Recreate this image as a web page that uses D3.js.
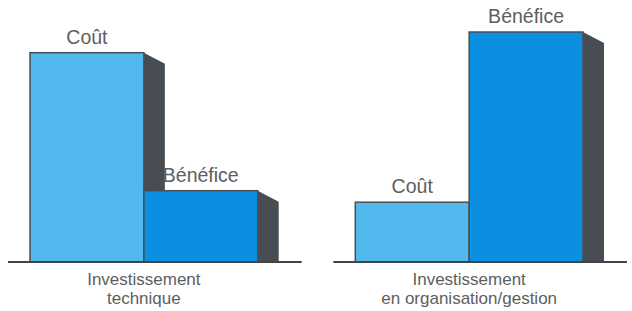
<!DOCTYPE html>
<html>
<head>
<meta charset="utf-8">
<script src="https://cdn.jsdelivr.net/npm/d3@7"></script>
<style>
  body { margin: 0; background: #fff; }
  text { font-family: "Liberation Sans", Arial, sans-serif; fill: #5e5e5e; }
</style>
</head>
<body>
<svg id="chart" width="632" height="311"></svg>
<script>
const groups = ['tech', 'orga'];
const groupLabels = [['Investissement', 'technique'], ['Investissement', 'en organisation/gestion']];
const series = ['Coût', 'Bénéfice'];
const values = [
  [91, 31],  // investissement technique
  [26, 100]  // investissement en organisation/gestion
];
const colors = ['#52b9ef', '#0b8fe0'];

const svg = d3.select('#chart');
const width = 632;
const baseY = 262;

const x0 = d3.scaleBand()
  .domain(groups)
  .range([30, 583])
  .paddingInner(0.3);

const x1 = d3.scaleBand()
  .domain(series)
  .range([0, x0.bandwidth()]);

const y = d3.scaleLinear()
  .domain([0, 100])
  .range([baseY, 32]);

const depthX = 21;
const depthY = 11;

groups.forEach((g, gi) => {
  const gx = x0(g);
  const grp = svg.append('g').attr('transform', `translate(${gx},0)`);

  const data = series.map((s, si) => ({ s, v: values[gi][si], si }));

  // side faces (3d)
  grp.selectAll('path.side')
    .data(data)
    .enter()
    .append('path')
    .attr('class', 'side')
    .attr('fill', '#474d52')
    .attr('d', (d) => {
      const xr = x1(d.s) + x1.bandwidth();
      const yt = y(d.v);
      return `M${xr},${yt}L${xr + depthX},${yt + depthY}L${xr + depthX},${baseY}L${xr},${baseY}Z`;
    });

  grp.selectAll('rect')
    .data(data)
    .enter()
    .append('rect')
    .attr('x', (d) => x1(d.s))
    .attr('y', (d) => y(d.v))
    .attr('width', x1.bandwidth())
    .attr('height', (d) => baseY - y(d.v))
    .attr('fill', (d) => colors[d.si])
    .attr('stroke', '#4a4f54')
    .attr('stroke-width', 1.5);

  grp.selectAll('text.val')
    .data(data)
    .enter()
    .append('text')
    .attr('class', 'val')
    .attr('x', (d) => x1(d.s) + x1.bandwidth() / 2)
    .attr('y', (d) => y(d.v) - 9)
    .attr('text-anchor', 'middle')
    .attr('font-size', 19.5)
    .text((d) => d.s);

  // baseline
  grp.append('line')
    .attr('x1', -22)
    .attr('x2', Math.min(x0.bandwidth() + 44, width - gx))
    .attr('y1', baseY)
    .attr('y2', baseY)
    .attr('stroke', '#444')
    .attr('stroke-width', 2);

  grp.selectAll('text.cat')
    .data(groupLabels[gi])
    .enter()
    .append('text')
    .attr('class', 'cat')
    .attr('x', x0.bandwidth() / 2)
    .attr('y', (d, i) => 285 + i * 19)
    .attr('text-anchor', 'middle')
    .attr('font-size', 17)
    .text((d) => d);
});
</script>
</body>
</html>
